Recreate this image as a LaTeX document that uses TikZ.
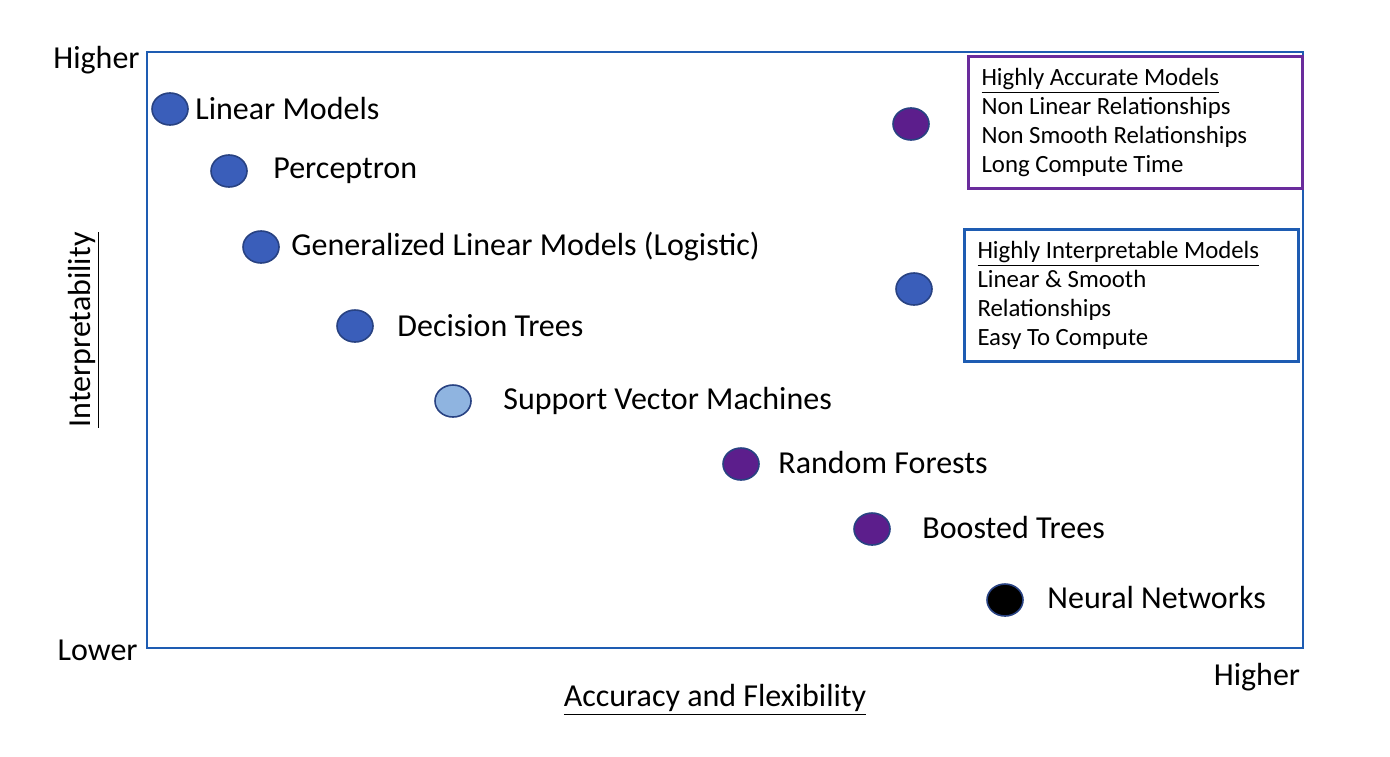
\documentclass[tikz,border=0pt]{standalone}
\usepackage{fontspec}
\setmainfont{Carlito}
\usepackage{xcolor}
\usetikzlibrary{shapes.geometric,positioning}

\definecolor{framebl}{RGB}{30,92,178}
\definecolor{dotbl}{RGB}{58,94,186}
\definecolor{dotedge}{RGB}{40,66,130}
\definecolor{dotlight}{RGB}{143,180,224}
\definecolor{dotpu}{RGB}{92,30,140}
\definecolor{boxpu}{RGB}{106,44,156}

\begin{document}
\begin{tikzpicture}[x=0.5pt, y=-0.5pt,
    dot/.style={ellipse, draw=dotedge, line width=0.8pt, minimum width=18pt, minimum height=16pt, inner sep=0pt, fill=#1},
    lbl/.style={anchor=west, font=\fontsize{16}{18}\selectfont, inner sep=0pt},
    info/.style={draw=#1, line width=1.5pt, anchor=north west, align=flush left, inner xsep=6.5pt, inner ysep=5.5pt, text width=154pt, minimum height=66pt, font=\fontsize{12.4}{14.6}\selectfont},
    axlbl/.style={font=\fontsize{16}{18}\selectfont, inner sep=0pt}
]
\useasboundingbox (0,0) rectangle (1390,756);
\draw[framebl, line width=0.8pt] (147,52) rectangle (1303,648);

% axis texts
\node[axlbl, anchor=east] (ytop) at (140,60) {Higher};
\node[axlbl, anchor=east] (ybot) at (138,650) {Lower};
\node[axlbl, rotate=90] (ytitle) at (84,330) {\underline{Interpretability}};
\node[axlbl] (xtitle) at (715,700) {\underline{Accuracy and Flexibility}};
\node[axlbl] (xtop) at (1257,677) {Higher};

% models
\node[dot=dotbl] (lin) at (170,109) {};
\node[lbl] (linl) at (195,109) {Linear Models};
\node[dot=dotbl] (perc) at (229,171) {};
\node[lbl] (percl) at (273,171) {Perceptron};
\node[dot=dotbl] (glm) at (261,247) {};
\node[lbl] (glml) at (291,247) {Generalized Linear Models (Logistic)};
\node[dot=dotbl] (dt) at (355,326) {};
\node[lbl] (dtl) at (397,326) {Decision Trees};
\node[dot=dotlight] (svm) at (453,401) {};
\node[lbl] (svml) at (503,401) {Support Vector Machines};
\node[dot=dotpu] (rf) at (741,464) {};
\node[lbl] (rfl) at (778,462) {Random Forests};
\node[dot=dotpu] (bt) at (872,529) {};
\node[lbl] (btl) at (922,527) {Boosted Trees};
\node[dot=black] (nn) at (1005,600) {};
\node[lbl] (nnl) at (1047,597) {Neural Networks};

% legend
\node[dot=dotpu] (keypu) at (911,124) {};
\node[info=boxpu] (accbox) at (967,55) {\underline{Highly Accurate Models}\\Non Linear Relationships\\Non Smooth Relationships\\Long Compute Time};
\node[dot=dotbl] (keybl) at (914,289) {};
\node[info=framebl] (intbox) at (963,228) {\underline{Highly Interpretable Models}\\Linear \& Smooth\\Relationships\\Easy To Compute};
\end{tikzpicture}
\end{document}
